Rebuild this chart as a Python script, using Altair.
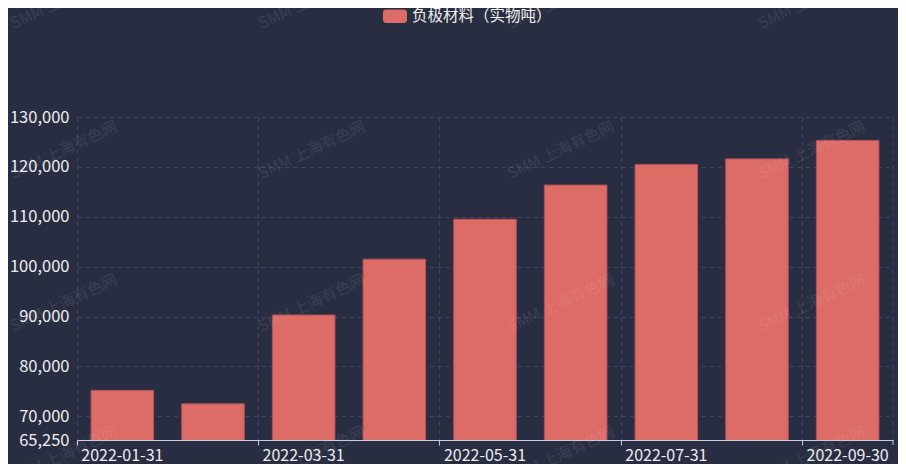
import altair as alt
import pandas as pd

# ---- data ----
dates = ["2022-01-31", "2022-02-28", "2022-03-31", "2022-04-30", "2022-05-31",
         "2022-06-30", "2022-07-31", "2022-08-31", "2022-09-30"]
values = [75200, 72500, 90300, 101500, 109500, 116350, 120500, 121600, 125300]
y_ticks = [65250, 70000, 80000, 90000, 100000, 110000, 120000, 130000]
x_label_dates = dates[::2]
series_name = "负极材料（实物吨）"
watermark_text = "SMM 上海有色网"

df = pd.DataFrame({"date": dates, "value": values})

BG = "#292d42"
BAR = "#dd6b66"
GRID = "#3d4668"
AXIS = "#c9cce0"
TXT = "#eeeeee"
FONT = "Noto Sans CJK SC"

W, H = 816, 323

bars = alt.Chart(df).mark_bar(
    width=alt.RelativeBandSize(0.69), color=BAR, stroke="#b0545a",
    strokeWidth=1, clip=True
).encode(
    x=alt.X("date:N", sort=dates,
            scale=alt.Scale(paddingInner=0, paddingOuter=0),
            axis=alt.Axis(values=x_label_dates, bandPosition=0,
                          title=None, labelAngle=0, labelFontSize=16, labelColor=TXT,
                          labelFont=FONT, labelPadding=2, tickSize=5, tickColor=AXIS,
                          domainColor=AXIS, domainWidth=1, grid=True, gridDash=[4, 4],
                          gridColor=GRID, labelOverlap=False)),
    y=alt.Y("value:Q",
            scale=alt.Scale(domain=[65250, 130000], nice=False, zero=False),
            axis=alt.Axis(values=y_ticks, format=",.0f", title=None, labelFontSize=16.5,
                          labelColor=TXT, labelFont=FONT, domain=False, ticks=False,
                          labelPadding=8, grid=True, gridDash=[4, 4], gridColor=GRID,
                          labelOverlap=False)),
)

one = pd.DataFrame({"a": [0]})

end_grid = alt.Chart(one).mark_rule(color=GRID, strokeDash=[4, 4]).encode(
    x=alt.value(W), y=alt.value(0), y2=alt.value(H))
end_tick = alt.Chart(one).mark_rule(color=AXIS).encode(
    x=alt.value(W), y=alt.value(H), y2=alt.value(H + 5))

legend_rect = alt.Chart(one).mark_rect(color=BAR, cornerRadius=3).encode(
    x=alt.value(306), x2=alt.value(330), y=alt.value(-107.5), y2=alt.value(-94))
legend_text = alt.Chart(one).mark_text(
    text=series_name, align="left", baseline="middle", fontSize=15.5, color=TXT, font=FONT
).encode(x=alt.value(335), y=alt.value(-101))

wm_layers = []
for cx in [64, 312, 561, 812]:
    for cy in [0, 150, 303, 455]:
        wm_layers.append(
            alt.Chart(one).mark_text(
                text=watermark_text, angle=335, fontSize=15.5, color="#ffffff",
                opacity=0.08, font=FONT, align="center", baseline="middle"
            ).encode(x=alt.value(cx - 77), y=alt.value(cy - 117))
        )

chart = alt.layer(
    end_grid, bars, end_tick, legend_rect, legend_text, *wm_layers
).properties(
    width=W, height=H,
    autosize=alt.AutoSizeParams(type="none"),
    padding={"left": 69, "top": 109, "right": 5, "bottom": 24},
    background=BG,
).configure(font=FONT).configure_view(strokeWidth=0, stroke="transparent")

chart.save("out.html", embed_options={"renderer": "svg", "actions": False})
